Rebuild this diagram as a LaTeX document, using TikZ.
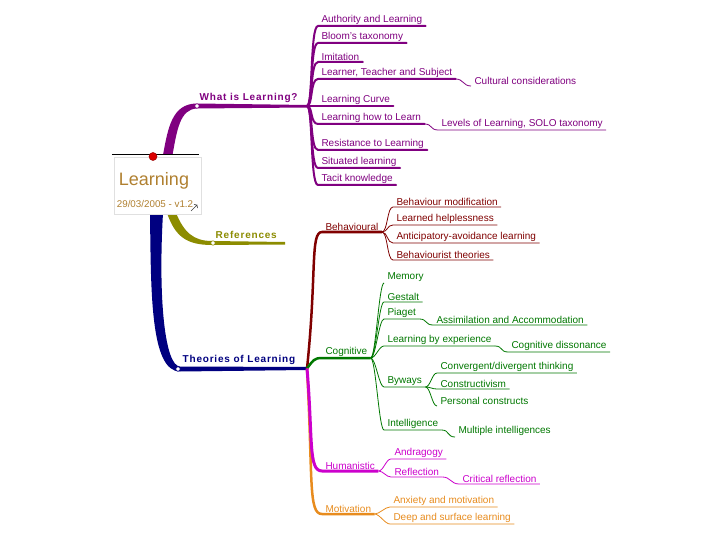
\documentclass[tikz,border=0pt]{standalone}
\usepackage{fontspec}
\setmainfont{Liberation Sans}
\newfontfamily\headfont[LetterSpace=8]{Liberation Sans}
\usetikzlibrary{calc}
\definecolor{wilc}{RGB}{128,0,128}
\definecolor{refc}{RGB}{140,140,0}
\definecolor{thc}{RGB}{0,0,128}
\definecolor{behc}{RGB}{128,0,0}
\definecolor{cogc}{RGB}{0,120,0}
\definecolor{humc}{RGB}{204,0,204}
\definecolor{motc}{RGB}{232,140,30}
\definecolor{rootc}{RGB}{176,128,48}
\definecolor{shadc}{RGB}{218,218,218}
\definecolor{dotc}{RGB}{220,0,0}
\pgfdeclarelayer{bg}
\pgfsetlayers{bg,main}
\tikzset{
  topic/.style={anchor=south west, inner xsep=3.5pt, inner ysep=1.5pt, outer sep=0pt, font=\fontsize{10}{12}\selectfont},
  mainlabel/.style={anchor=south west, inner sep=1.5pt, font=\headfont\bfseries\fontsize{10}{12}\selectfont},
  ltwo/.style={line width=2pt, line cap=round},
  lthree/.style={line width=0.8pt},
  shad/.style={shadc, transform canvas={shift={(1.3pt,-1.6pt)}}},
  elbow/.style={fill=white, line width=0.6pt},
  wilshape/.style={insert path={(163,155) .. controls (168,128) and (172,103.5) .. (197,103.5) -- (307,105) -- (307,107.5) -- (197,108.5) .. controls (180,109) and (177,130) .. (172.5,155) -- cycle}},
  refshape/.style={insert path={(167,213) .. controls (175,236) and (186,245) .. (212,245) -- (285,244.5) -- (285,242) -- (212,241) .. controls (193,241) and (184,232) .. (176,213) -- cycle}},
  theoshape/.style={insert path={(150,213) .. controls (151,290) and (150,371.5) .. (180,371.5) -- (307,370) -- (307,367) -- (180,366.5) .. controls (165,366) and (158,300) .. (163,213) -- cycle}},
}
\begin{document}
\begin{tikzpicture}[x=1pt,y=-1pt]
\useasboundingbox[fill=white] (0,0) rectangle (720,540);

% forks
\coordinate (wilfork) at (307,106);
\coordinate (thfork) at (307,368.5);

% ---------- main branches ----------
\begin{pgfonlayer}{bg}
\fill[shad, wilshape];
\fill[shad, refshape];
\fill[shad, theoshape];
\end{pgfonlayer}
\fill[wilc, wilshape];
\fill[refc, refshape];
\fill[thc, theoshape];

\node[mainlabel, text=wilc] (wil) at (198,104) {What is Learning?};
\node[mainlabel, text=refc] (refs) at (214,240) {References};
\node[mainlabel, text=thc] (theo) at (181,366) {Theories of Learning};

\filldraw[elbow, draw=wilc] (197,106) circle (2.2pt);
\filldraw[elbow, draw=refc] (213,243) circle (2.2pt);
\filldraw[elbow, draw=thc] (178,369) circle (2.2pt);

% ---------- central topic ----------
\begin{pgfonlayer}{bg}
\fill[shadc] (116,160) rectangle (203.5,217);
\end{pgfonlayer}
\node[draw=black!12, fill=white, minimum width=87pt, minimum height=57pt, inner sep=0pt] (root) at (157.5,186) {};
\node[text=rootc, font=\fontsize{18}{20}\selectfont, inner sep=0pt] (title) at (154,181) {Learning};
\node[text=rootc, font=\fontsize{9.8}{11}\selectfont, inner sep=0pt] (date) at (155,204) {29/03/2005 - v1.2};
\draw[black, line width=0.8pt] ([xshift=-2pt,yshift=2.5pt]root.north west) -- ([xshift=-2pt,yshift=2.5pt]root.north east);
\filldraw[fill=dotc, draw=dotc!70!black, line width=0.5pt] (153,156.5) circle (4pt);
\draw[black!75, line width=0.6pt] (191,211) -- (197,205) (194,204.5) -- (197,205) -- (197.5,208);

% ---------- What is Learning? ----------
\node[topic, text=wilc] (auth) at (318,26) {Authority and Learning};
\node[topic, text=wilc] (bloom) at (318,43) {Bloom's taxonomy};
\node[topic, text=wilc] (imit) at (318,62) {Imitation};
\node[topic, text=wilc] (lts) at (318,79) {Learner, Teacher and Subject};
\node[topic, text=wilc] (lcurve) at (318,106) {Learning Curve};
\node[topic, text=wilc] (lhl) at (318,124) {Learning how to Learn};
\node[topic, text=wilc] (resist) at (318,150) {Resistance to Learning};
\node[topic, text=wilc] (situ) at (318,168) {Situated learning};
\node[topic, text=wilc] (tacit) at (318,185) {Tacit knowledge};
\node[topic, text=wilc] (cult) at (471,86) {Cultural considerations};
\node[topic, text=wilc] (levels) at (438,130) {Levels of Learning, SOLO taxonomy};

\begin{pgfonlayer}{bg}
\foreach \n in {auth,bloom,imit,lts,lcurve,lhl,resist,situ,tacit}{
  \draw[ltwo, shad] (wilfork) .. controls +(6,0) and +(-8,0) .. (\n.south west) -- (\n.south east);
}
\end{pgfonlayer}
\foreach \n in {auth,bloom,imit,lts,lcurve,lhl,resist,situ,tacit}{
  \draw[ltwo, wilc] (wilfork) .. controls +(6,0) and +(-8,0) .. (\n.south west) -- (\n.south east);
}
\draw[lthree, wilc] (lts.south east) .. controls +(8,0) and +(-8,0) .. (cult.south west);
\draw[lthree, wilc] (lhl.south east) .. controls +(8,0) and +(-8,0) .. (levels.south west) -- (levels.south east);

% ---------- Theories of Learning: sub-branches ----------
\node[topic, text=behc] (behav) at (322,232) {Behavioural};
\node[topic, text=cogc] (cogn) at (322,358) {Cognitive};
\node[topic, text=humc] (human) at (322,471) {Humanistic};
\node[topic, text=motc] (motiv) at (322,514) {Motivation};

\begin{pgfonlayer}{bg}
\draw[shad, line width=2.5pt] (thfork) .. controls +(10,-95) and +(-12,0) .. (behav.south west) -- (behav.south east);
\draw[shad, line width=2.5pt] (thfork) .. controls +(6,-8) and +(-8,0) .. (cogn.south west) -- (cogn.south east);
\draw[shad, line width=2.5pt] (thfork) .. controls +(6,110) and +(-14,0) .. (motiv.south west) -- (motiv.south east);
\draw[shad, line width=3pt] (thfork) .. controls +(6,70) and +(-14,0) .. (human.south west) -- (human.south east);
\end{pgfonlayer}
\draw[behc, line width=2.5pt] (thfork) .. controls +(10,-95) and +(-12,0) .. (behav.south west) -- (behav.south east);
\draw[cogc, line width=2.5pt] (thfork) .. controls +(6,-8) and +(-8,0) .. (cogn.south west) -- (cogn.south east);
\draw[motc, line width=2.5pt] (thfork) .. controls +(6,110) and +(-14,0) .. (motiv.south west) -- (motiv.south east);
\draw[humc, line width=3pt] (thfork) .. controls +(6,70) and +(-14,0) .. (human.south west) -- (human.south east);

% Behavioural children
\node[topic, text=behc] (bmod) at (393,207) {Behaviour modification};
\node[topic, text=behc] (lhelp) at (393,225) {Learned helplessness};
\node[topic, text=behc] (antic) at (393,243) {Anticipatory-avoidance learning};
\node[topic, text=behc] (btheo) at (393,260) {Behaviourist theories};
\foreach \n in {bmod,lhelp,antic,btheo}{
  \draw[lthree, behc] (behav.south east) .. controls +(6,0) and +(-6,0) .. (\n.south west) -- (\n.south east);
}

% Cognitive children
\node[topic, text=cogc] (memory) at (384,283) {Memory};
\node[topic, text=cogc] (gestalt) at (384,302) {Gestalt};
\node[topic, text=cogc] (piaget) at (384,319) {Piaget};
\node[topic, text=cogc] (lbe) at (384,346) {Learning by experience};
\node[topic, text=cogc] (byways) at (384,387) {Byways};
\node[topic, text=cogc] (intel) at (384,430) {Intelligence};
\node[topic, text=cogc] (assim) at (433,325) {Assimilation and Accommodation};
\node[topic, text=cogc] (cdiss) at (508,352) {Cognitive dissonance};
\node[topic, text=cogc] (conv) at (437,373) {Convergent/divergent thinking};
\node[topic, text=cogc] (constr) at (437,389) {Constructivism};
\node[topic, text=cogc] (pers) at (437,406) {Personal constructs};
\node[topic, text=cogc] (multi) at (455,437) {Multiple intelligences};

\draw[lthree, cogc] (cogn.south east) .. controls +(5,0) and +(-5,0) .. (memory.south west);
\foreach \n in {gestalt,piaget,lbe,byways,intel}{
  \draw[lthree, cogc] (cogn.south east) .. controls +(5,0) and +(-5,0) .. (\n.south west) -- (\n.south east);
}
\draw[lthree, cogc] (piaget.south east) .. controls +(8,0) and +(-8,0) .. (assim.south west) -- (assim.south east);
\draw[lthree, cogc] (lbe.south east) .. controls +(8,0) and +(-8,0) .. (cdiss.south west) -- (cdiss.south east);
\foreach \n in {conv,constr}{
  \draw[lthree, cogc] (byways.south east) .. controls +(5,0) and +(-5,0) .. (\n.south west) -- (\n.south east);
}
\draw[lthree, cogc] (byways.south east) .. controls +(5,0) and +(-5,0) .. (pers.south west);
\draw[lthree, cogc] (intel.south east) .. controls +(8,0) and +(-8,0) .. (multi.south west);

% Humanistic children
\node[topic, text=humc] (andr) at (391,459) {Andragogy};
\node[topic, text=humc] (refl) at (391,477) {Reflection};
\node[topic, text=humc] (crit) at (459,484) {Critical reflection};
\foreach \n in {andr,refl}{
  \draw[lthree, humc] (human.south east) .. controls +(5,0) and +(-5,0) .. (\n.south west) -- (\n.south east);
}
\draw[lthree, humc] (refl.south east) .. controls +(8,0) and +(-8,0) .. (crit.south west) -- (crit.south east);

% Motivation children
\node[topic, text=motc] (anx) at (390,507) {Anxiety and motivation};
\node[topic, text=motc] (deep) at (390,524) {Deep and surface learning};
\foreach \n in {anx,deep}{
  \draw[lthree, motc] (motiv.south east) .. controls +(5,0) and +(-5,0) .. (\n.south west) -- (\n.south east);
}
\end{tikzpicture}
\end{document}
